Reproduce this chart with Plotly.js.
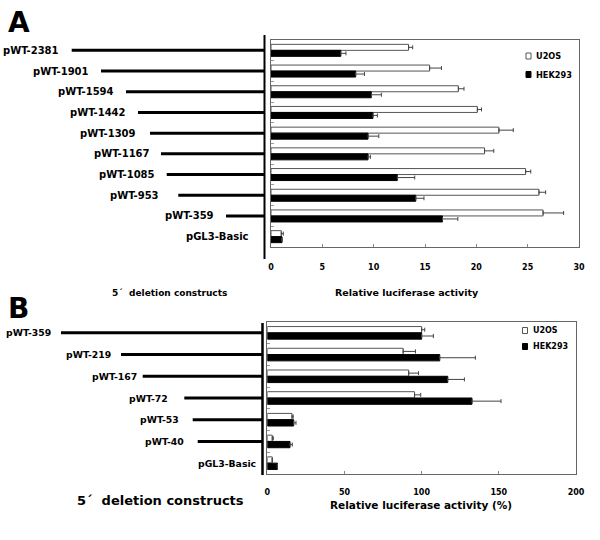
<!DOCTYPE html>
<html>
<head>
<meta charset="utf-8">
<script src="https://cdn.plot.ly/plotly-3.0.1.min.js"></script>
<style>html,body{margin:0;padding:0;background:#fff}#chart{width:600px;height:540px}</style>
</head>
<body>
<div id="chart"></div>
<script>
// ---------- Data ----------
const constructsA = ['pWT-2381','pWT-1901','pWT-1594','pWT-1442','pWT-1309','pWT-1167','pWT-1085','pWT-953','pWT-359','pGL3-Basic'];
const u2osA    = [13.4, 15.45, 18.25, 20.1, 22.2, 20.8, 24.8, 26.1, 26.5, 1.0];
const u2osAErr = [0.4, 1.15, 0.55, 0.4, 1.4, 0.9, 0.5, 0.65, 2.0, 0.2];
const hekA     = [6.8, 8.25, 9.77, 9.93, 9.45, 9.45, 12.3, 14.1, 16.7, 1.07];
const hekAErr  = [0.5, 0.85, 0.98, 0.43, 1.05, 0.23, 1.7, 0.8, 1.5, 0.0];

const constructsB = ['pWT-359','pWT-219','pWT-167','pWT-72','pWT-53','pWT-40','pGL3-Basic'];
const u2osB    = [100, 88, 91.6, 95.4, 16, 3.2, 3.2];
const u2osBErr = [2, 8, 6.4, 4, 0.8, 0.7, 0];
const hekB     = [100, 111.7, 116.9, 132.6, 17.1, 14.7, 6.5];
const hekBErr  = [7.6, 23.1, 10.8, 18.8, 1.5, 1.5, 0];

const seriesNames = ['U2OS', 'HEK293'];
const ticksA = [0, 5, 10, 15, 20, 25, 30];
const ticksB = [0, 50, 100, 150, 200];

// ---------- Layout helpers (pixel positions of schematic) ----------
const W = 600, H = 540;
const px = v => v / W;
const py = v => (H - v) / H;
const labelRightA = [61, 90.7, 115.7, 127.7, 137.7, 151.7, 156.7, 161, 216, 250.7];
const lineStartA  = [71.7, 101, 126, 138, 150, 161, 166.7, 178.3, 226, null];
const labelRightB = [53.3, 112.7, 139.3, 170, 181, 186, 258.3];
const lineStartB  = [61, 121, 142.7, 184.3, 192.7, 197.7, null];

const FONT = 'DejaVu Sans';
const zeros = n => new Array(n).fill(0);

function barTrace(x, err, cats, name, isHek, xa, ya) {
  return {
    type: 'bar', orientation: 'h', name: name, x: x, y: cats,
    xaxis: xa, yaxis: ya, showlegend: false,
    marker: isHek ? {color: '#000', line: {color: '#000', width: 1}}
                  : {color: '#fff', line: {color: '#555', width: 1}},
    error_x: {type: 'data', symmetric: false, array: err, arrayminus: zeros(err.length),
              color: '#444', thickness: 1, width: 2}
  };
}

const data = [
  barTrace(u2osA, u2osAErr, constructsA, seriesNames[0], false, 'x', 'y'),
  barTrace(hekA, hekAErr, constructsA, seriesNames[1], true, 'x', 'y'),
  barTrace(u2osB, u2osBErr, constructsB, seriesNames[0], false, 'x2', 'y2'),
  barTrace(hekB, hekBErr, constructsB, seriesNames[1], true, 'x2', 'y2')
];

const axisFrame = {showline: true, mirror: true, linecolor: '#666', linewidth: 1, showgrid: false, zeroline: false};

const shapes = [];
const annotations = [];

// Panel A schematic
shapes.push({type: 'line', xref: 'paper', yref: 'paper', x0: px(264.5), x1: px(264.5), y0: py(35), y1: py(259), line: {color: '#000', width: 2}});
constructsA.forEach((c, i) => {
  if (lineStartA[i] !== null) {
    shapes.push({type: 'line', xref: 'paper', yref: 'y', x0: px(lineStartA[i]), x1: px(264.5), y0: c, y1: c, line: {color: '#000', width: 3}});
  }
  annotations.push({xref: 'paper', yref: 'y', x: px(labelRightA[i]), y: c, xanchor: 'right', yanchor: 'middle', showarrow: false,
    text: c, font: {family: FONT, size: 10, weight: 'bold', color: '#000'}});
});
// Panel B schematic
shapes.push({type: 'line', xref: 'paper', yref: 'paper', x0: px(262.5), x1: px(262.5), y0: py(323), y1: py(475), line: {color: '#000', width: 2.5}});
constructsB.forEach((c, i) => {
  if (lineStartB[i] !== null) {
    shapes.push({type: 'line', xref: 'paper', yref: 'y2', x0: px(lineStartB[i]), x1: px(262.5), y0: c, y1: c, line: {color: '#000', width: 3}});
  }
  annotations.push({xref: 'paper', yref: 'y2', x: px(labelRightB[i]), y: c, xanchor: 'right', yanchor: 'middle', showarrow: false,
    text: c, font: {family: FONT, size: 9.3, weight: 'bold', color: '#000'}});
});

// Legends (manual)
function legendItem(xSq, yc, text, isHek, size) {
  shapes.push({type: 'rect', xref: 'paper', yref: 'paper', x0: px(xSq), x1: px(xSq + 5), y0: py(yc + 3), y1: py(yc - 3),
    fillcolor: isHek ? '#000' : '#fff', line: {color: isHek ? '#000' : '#555', width: 1}});
  annotations.push({xref: 'paper', yref: 'paper', x: px(xSq + 8), y: py(yc), xanchor: 'left', yanchor: 'middle', showarrow: false,
    text: text, font: {family: FONT, size: size, weight: 'bold', color: '#000'}});
}
legendItem(526, 56, seriesNames[0], false, 8.2);
legendItem(526, 74.5, seriesNames[1], true, 8.2);
legendItem(522.5, 330.5, seriesNames[0], false, 8);
legendItem(522.5, 346.5, seriesNames[1], true, 8);

// Titles & panel letters
annotations.push({xref: 'paper', yref: 'paper', x: px(407), y: py(293), xanchor: 'center', yanchor: 'middle', showarrow: false,
  text: 'Relative luciferase activity', font: {family: FONT, size: 9.5, weight: 'bold', color: '#000'}});
annotations.push({xref: 'paper', yref: 'paper', x: px(421), y: py(505), xanchor: 'center', yanchor: 'middle', showarrow: false,
  text: 'Relative luciferase activity (%)', font: {family: FONT, size: 10.5, weight: 'bold', color: '#000'}});
annotations.push({xref: 'paper', yref: 'paper', x: px(110), y: py(293), xanchor: 'left', yanchor: 'middle', showarrow: false,
  text: '5´ &nbsp;deletion constructs', font: {family: FONT, size: 9, weight: 'bold', color: '#000'}});
annotations.push({xref: 'paper', yref: 'paper', x: px(75), y: py(500), xanchor: 'left', yanchor: 'middle', showarrow: false,
  text: '5´ &nbsp;deletion constructs', font: {family: FONT, size: 13, weight: 'bold', color: '#000'}});
annotations.push({xref: 'paper', yref: 'paper', x: px(6), y: py(22), xanchor: 'left', yanchor: 'middle', showarrow: false,
  text: 'A', font: {family: FONT, size: 28, weight: 'bold', color: '#000'}});
annotations.push({xref: 'paper', yref: 'paper', x: px(6), y: py(308), xanchor: 'left', yanchor: 'middle', showarrow: false,
  text: 'B', font: {family: FONT, size: 28, weight: 'bold', color: '#000'}});

const layout = {
  width: W, height: H,
  margin: {l: 0, r: 0, t: 0, b: 0},
  paper_bgcolor: '#fff', plot_bgcolor: '#fff',
  showlegend: false,
  barmode: 'group', bargap: 0.42, bargroupgap: 0,
  xaxis: Object.assign({}, axisFrame, {domain: [px(271), px(579)], anchor: 'y', range: [0, 30], tickvals: ticksA,
    ticks: 'inside', ticklen: 3, tickcolor: '#888', ticklabelstandoff: 12,
    tickfont: {family: FONT, size: 8, weight: 'bold', color: '#000'}}),
  yaxis: Object.assign({}, axisFrame, {domain: [py(247), py(40)], anchor: 'x', type: 'category', categoryarray: constructsA,
    autorange: 'reversed', showticklabels: false, ticks: 'inside', tickson: 'boundaries', ticklen: 3, tickcolor: '#999'}),
  xaxis2: Object.assign({}, axisFrame, {domain: [px(267.3), px(576)], anchor: 'y2', range: [0, 200], tickvals: ticksB,
    ticks: 'inside', ticklen: 3, tickcolor: '#888', ticklabelstandoff: 10,
    tickfont: {family: FONT, size: 8, weight: 'bold', color: '#000'}}),
  yaxis2: Object.assign({}, axisFrame, {domain: [py(474), py(322)], anchor: 'x2', type: 'category', categoryarray: constructsB,
    autorange: 'reversed', showticklabels: false, ticks: 'inside', tickson: 'boundaries', ticklen: 3, tickcolor: '#999'}),
  shapes: shapes,
  annotations: annotations
};

Plotly.newPlot('chart', data, layout, {staticPlot: true, displayModeBar: false});
</script>
</body>
</html>
